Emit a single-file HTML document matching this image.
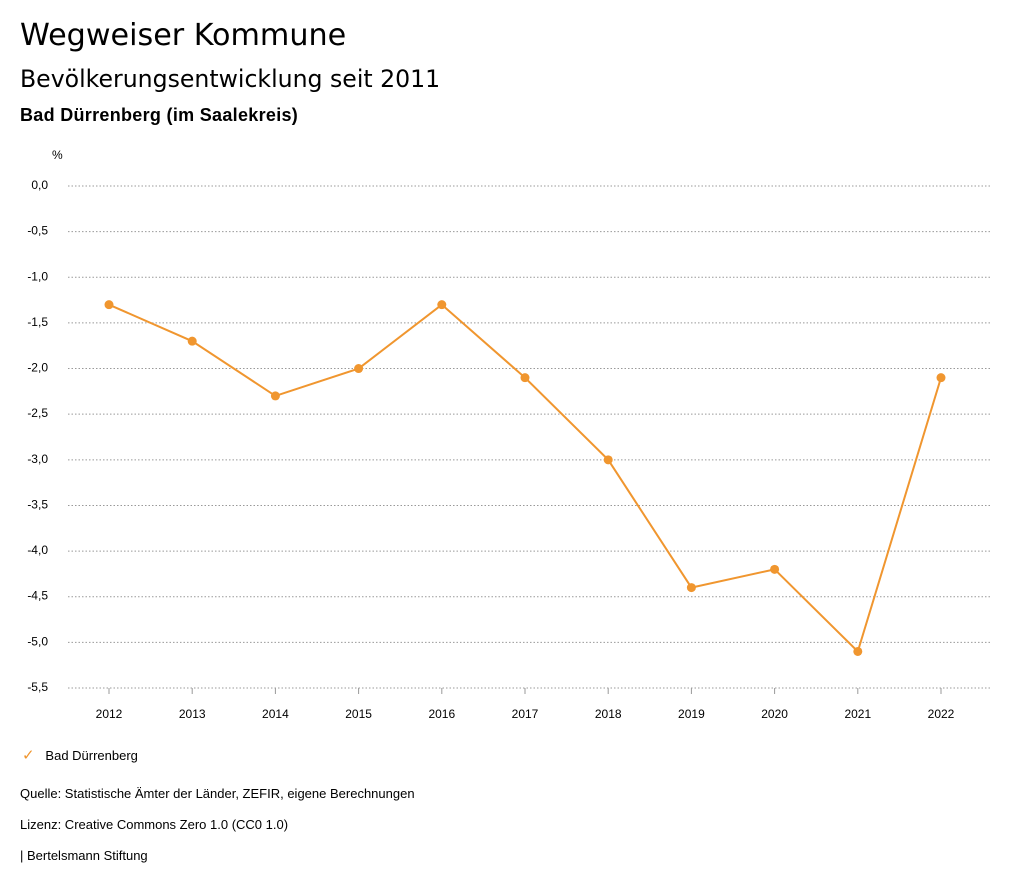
<!DOCTYPE html>
<html><head><meta charset="utf-8">
<style>
body{margin:0;background:#fff;font-family:"Liberation Sans",sans-serif;color:#000;}
#wrap{position:relative;width:1024px;height:888px;overflow:hidden;}
.t{position:absolute;left:20px;white-space:nowrap;}
</style></head>
<body>
<div id="wrap">
<div class="t" style="top:18px;font-size:30.2px;font-family:'DejaVu Sans',sans-serif;">Wegweiser Kommune</div>
<div class="t" style="top:65px;font-size:23.6px;font-family:'DejaVu Sans',sans-serif;">Bevölkerungsentwicklung seit 2011</div>
<div class="t" style="top:105px;font-size:18px;font-weight:bold;letter-spacing:0.3px;">Bad Dürrenberg (im Saalekreis)</div>
<svg id="chart" width="1024" height="888" style="position:absolute;left:0;top:0"></svg>
<div class="t" style="top:746px;left:22px;font-size:13px;"><span style="color:#f0962f;font-size:15px;">✓</span>&nbsp;&nbsp;&nbsp;Bad Dürrenberg</div>
<div class="t" style="top:786px;font-size:13px;">Quelle: Statistische Ämter der Länder, ZEFIR, eigene Berechnungen</div>
<div class="t" style="top:817px;font-size:13px;">Lizenz: Creative Commons Zero 1.0 (CC0 1.0)</div>
<div class="t" style="top:848px;font-size:13px;">| Bertelsmann Stiftung</div>
</div>
<script>
const years=["2012","2013","2014","2015","2016","2017","2018","2019","2020","2021","2022"];
const values=[-1.3,-1.7,-2.3,-2.0,-1.3,-2.1,-3.0,-4.4,-4.2,-5.1,-2.1];
const yTicks=[0,-0.5,-1,-1.5,-2,-2.5,-3,-3.5,-4,-4.5,-5,-5.5];
const NS="http://www.w3.org/2000/svg";
const svg=document.getElementById('chart');
const y=v=>186+(0-v)/5.5*502;
const x=i=>109+i*83.2;
function mk(t,a){const e=document.createElementNS(NS,t);for(const k in a)e.setAttribute(k,a[k]);svg.appendChild(e);return e;}
const u=mk('text',{x:52,y:159,'font-size':12});u.textContent='%';


yTicks.forEach(v=>{
  const l=mk('line',{x1:68,x2:990,y1:y(v),y2:y(v),stroke:'#999','stroke-dasharray':'1.5,2','stroke-width':1});
  
  
  const t=mk('text',{x:48,y:y(v)+3,'font-size':12,'text-anchor':'end'});
  t.textContent=v.toFixed(1).replace('.',',');
  
  
});
years.forEach((yr,i)=>{
  const tk=mk('line',{x1:x(i),x2:x(i),y1:688,y2:694,stroke:'#999'});
  
  
  const t=mk('text',{x:x(i),y:718,'font-size':12,'text-anchor':'middle'});
  t.textContent=yr;
  
  
});
const p=mk('polyline',{points:values.map((v,i)=>x(i)+','+y(v)).join(' '),fill:'none',stroke:'#f0962f','stroke-width':2});


values.forEach((v,i)=>{
  const c=mk('circle',{cx:x(i),cy:y(v),r:4.5,fill:'#f0962f'});
  
  
});
</script>
</body></html>
